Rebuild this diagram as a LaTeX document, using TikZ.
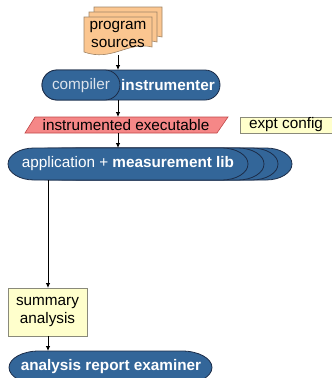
\documentclass[tikz,border=0pt]{standalone}
\usepackage{fontspec}
\setmainfont{Liberation Sans}
\usetikzlibrary{arrows.meta}
\definecolor{bluefill}{HTML}{336699}
\definecolor{blueline}{HTML}{1C2C48}
\definecolor{complt}{HTML}{DCE3EC}
\definecolor{pinkfill}{HTML}{F58787}
\definecolor{pinkline}{HTML}{C04848}
\definecolor{yelfill}{HTML}{FFFFCC}
\definecolor{yelline}{HTML}{8A8A7A}
\definecolor{orfill}{HTML}{FBC690}
\definecolor{orline}{HTML}{A08466}
\tikzset{
  txt/.style={font=\fontsize{15.3}{18}\selectfont, align=center, inner sep=0pt},
  wtxt/.style={txt, text=white, font=\fontsize{15.3}{18}\selectfont\bfseries},
  blueshape/.style={fill=bluefill, draw=blueline, line width=0.8pt},
  pinkshape/.style={fill=pinkfill, draw=pinkline, line width=0.6pt},
  yelshape/.style={fill=yelfill, draw=yelline, line width=0.7pt},
  orshape/.style={fill=orfill, draw=orline, line width=0.6pt},
  conn/.style={draw=black, line width=0.8pt, -{Latex[length=5pt,width=4.5pt]}},
}
\newcommand{\docshape}[2]{%
  \path[orshape] (84+#1,17+#2) -- (152+#1,17+#2) -- (152+#1,47+#2)
    .. controls (128+#1,41+#2) and (112+#1,62+#2) .. (84+#1,52+#2) -- cycle;}
\newcommand{\ovalend}[6]{% left, right, top, bottom, rx, ry
  \path[blueshape] (#1+#5,#3) -- (#2-#5,#3)
    arc[start angle=90, end angle=-90, x radius=#5pt, y radius=#6pt]
    -- (#1+#5,#4)
    arc[start angle=270, end angle=90, x radius=#5pt, y radius=#6pt] -- cycle;}
\begin{document}
\begin{tikzpicture}[x=1pt,y=-1pt]
\useasboundingbox (0,0) rectangle (332,378);
\clip (0,0) rectangle (332,378);

% program sources (stack of documents)
\docshape{10}{-10}
\docshape{5}{-5}
\docshape{0}{0}
\node[txt] (src) at (118,34) {program\\sources};
\coordinate (srcB) at (118,55);

% compiler / instrumenter
\path[blueshape, rounded corners=15pt] (42,70) rectangle (220,100);
\path[blueshape, rounded corners=15pt] (42,70) rectangle (120,100);
\node[txt, text=complt] (comp) at (81,85.5) {compiler};
\node[wtxt] (instr) at (168,85.5) {instrumenter};
\coordinate (ciT) at (118,70);
\coordinate (ciB) at (118,100);

% instrumented executable
\path[pinkshape] (25,133) -- (35,117) -- (228,117) -- (217,133) -- cycle;
\node[txt] (exe) at (126,125) {instrumented executable};
\coordinate (exeT) at (118,117);
\coordinate (exeB) at (118,133);

% expt config
\path[yelshape] (240,117) rectangle (340,133);
\node[txt] (cfg) at (286,125) {expt config};

% application + measurement lib (stack)
\ovalend{52}{292}{148}{180}{26}{16}
\ovalend{38}{278}{148}{180}{26}{16}
\ovalend{24}{264}{148}{180}{26}{16}
\ovalend{8}{248}{148}{180}{26}{16}
\node[txt, text=white] (app) at (128,164) {application + \textbf{measurement lib}};
\coordinate (appT) at (118,148);
\coordinate (appB) at (48,180);

% summary analysis
\path[yelshape] (8,288) rectangle (87,336);
\node[txt] (sum) at (47.5,312) {summary\\analysis};
\coordinate (sumT) at (48,288);
\coordinate (sumB) at (48,336);

% analysis report examiner
\ovalend{9}{212}{351}{384}{30}{16.5}
\node[wtxt] (exam) at (111,367) {analysis report examiner};
\coordinate (examT) at (48,351);

% connectors
\draw[conn] (srcB) -- (ciT);
\draw[conn] (ciB) -- (exeT);
\draw[conn] (exeB) -- (appT);
\draw[conn] (appB) -- (sumT);
\draw[conn] (sumB) -- (examT);
\end{tikzpicture}
\end{document}
